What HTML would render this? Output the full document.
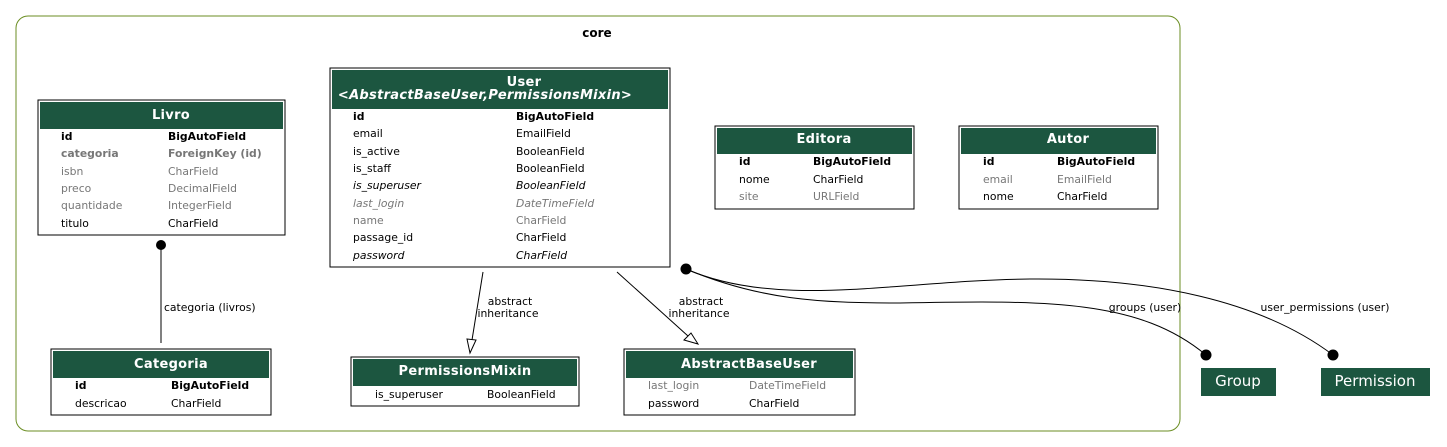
<!DOCTYPE html>
<html><head><meta charset="utf-8"><style>
html,body{margin:0;padding:0;background:#fff;}
svg{display:block;font-family:"DejaVu Sans","Liberation Sans",sans-serif;}
.f{font-size:10.8px;fill:#000}
.g{fill:#777}
.b{font-weight:bold}
.i{font-style:italic}
.t{font-size:13px;font-weight:bold;fill:#fff;letter-spacing:0.3px}
.l{font-size:10.8px;fill:#000}
</style></head><body>
<svg width="1447" height="447" viewBox="0 0 1447 447" xmlns="http://www.w3.org/2000/svg">
<rect x="16" y="16" width="1164" height="415" rx="12" fill="none" stroke="#6b8e23" stroke-width="1"/>
<text x="597" y="37" text-anchor="middle" style="font-size:12px;font-weight:bold">core</text>

<!-- Livro -->
<rect x="38" y="100" width="247" height="135" fill="#fff" stroke="#000"/>
<rect x="40" y="102" width="243" height="27" fill="#1c5640"/>
<text class="t" x="171" y="119" text-anchor="middle">Livro</text>
<g class="f">
<text x="61" y="140" class="b">id</text><text x="168" y="140" class="b">BigAutoField</text>
<text x="61" y="157" class="b g">categoria</text><text x="168" y="157" class="b g">ForeignKey (id)</text>
<text x="61" y="175" class="g">isbn</text><text x="168" y="175" class="g">CharField</text>
<text x="61" y="192" class="g">preco</text><text x="168" y="192" class="g">DecimalField</text>
<text x="61" y="209" class="g">quantidade</text><text x="168" y="209" class="g">IntegerField</text>
<text x="61" y="227">titulo</text><text x="168" y="227">CharField</text>
</g>

<!-- User -->
<rect x="330" y="68" width="340" height="199" fill="#fff" stroke="#000"/>
<rect x="332" y="70" width="336" height="39" fill="#1c5640"/>
<text class="t" x="524" y="86" text-anchor="middle">User</text>
<text class="t i" x="485" y="99" text-anchor="middle">&lt;AbstractBaseUser,PermissionsMixin&gt;</text>
<g class="f">
<text x="353" y="120" class="b">id</text><text x="516" y="120" class="b">BigAutoField</text>
<text x="353" y="137">email</text><text x="516" y="137">EmailField</text>
<text x="353" y="155">is_active</text><text x="516" y="155">BooleanField</text>
<text x="353" y="172">is_staff</text><text x="516" y="172">BooleanField</text>
<text x="353" y="189" class="i">is_superuser</text><text x="516" y="189" class="i">BooleanField</text>
<text x="353" y="207" class="i g">last_login</text><text x="516" y="207" class="i g">DateTimeField</text>
<text x="353" y="224" class="g">name</text><text x="516" y="224" class="g">CharField</text>
<text x="353" y="241">passage_id</text><text x="516" y="241">CharField</text>
<text x="353" y="259" class="i">password</text><text x="516" y="259" class="i">CharField</text>
</g>

<!-- Editora -->
<rect x="715" y="126" width="199" height="83" fill="#fff" stroke="#000"/>
<rect x="717" y="128" width="195" height="26" fill="#1c5640"/>
<text class="t" x="824" y="143" text-anchor="middle">Editora</text>
<g class="f">
<text x="739" y="165" class="b">id</text><text x="813" y="165" class="b">BigAutoField</text>
<text x="739" y="183">nome</text><text x="813" y="183">CharField</text>
<text x="739" y="200" class="g">site</text><text x="813" y="200" class="g">URLField</text>
</g>

<!-- Autor -->
<rect x="959" y="126" width="199" height="83" fill="#fff" stroke="#000"/>
<rect x="961" y="128" width="195" height="26" fill="#1c5640"/>
<text class="t" x="1068" y="143" text-anchor="middle">Autor</text>
<g class="f">
<text x="983" y="165" class="b">id</text><text x="1057" y="165" class="b">BigAutoField</text>
<text x="983" y="183" class="g">email</text><text x="1057" y="183" class="g">EmailField</text>
<text x="983" y="200">nome</text><text x="1057" y="200">CharField</text>
</g>

<!-- Categoria -->
<rect x="51" y="349" width="220" height="66" fill="#fff" stroke="#000"/>
<rect x="53" y="351" width="216" height="27" fill="#1c5640"/>
<text class="t" x="171" y="368" text-anchor="middle">Categoria</text>
<g class="f">
<text x="75" y="389" class="b">id</text><text x="171" y="389" class="b">BigAutoField</text>
<text x="75" y="407">descricao</text><text x="171" y="407">CharField</text>
</g>

<!-- PermissionsMixin -->
<rect x="351" y="357" width="228" height="49" fill="#fff" stroke="#000"/>
<rect x="353" y="359" width="224" height="27" fill="#1c5640"/>
<text class="t" x="465" y="375" text-anchor="middle">PermissionsMixin</text>
<g class="f">
<text x="375" y="398">is_superuser</text><text x="487" y="398">BooleanField</text>
</g>

<!-- AbstractBaseUser -->
<rect x="624" y="349" width="231" height="66" fill="#fff" stroke="#000"/>
<rect x="626" y="351" width="227" height="27" fill="#1c5640"/>
<text class="t" x="749" y="368" text-anchor="middle">AbstractBaseUser</text>
<g class="f">
<text x="648" y="389" class="g">last_login</text><text x="749" y="389" class="g">DateTimeField</text>
<text x="648" y="407">password</text><text x="749" y="407">CharField</text>
</g>

<!-- Group / Permission -->
<rect x="1201" y="368" width="75" height="28" fill="#1c5640"/>
<text x="1238" y="386" text-anchor="middle" style="font-size:15px;fill:#fff">Group</text>
<rect x="1321" y="368" width="109" height="28" fill="#1c5640"/>
<text x="1375" y="386" text-anchor="middle" style="font-size:15px;fill:#fff">Permission</text>

<!-- edges -->
<circle cx="161" cy="245" r="5" fill="#000"/>
<line x1="161" y1="245" x2="161" y2="343" stroke="#000"/>
<text class="l" x="164" y="311">categoria (livros)</text>

<line x1="483" y1="272" x2="472" y2="340" stroke="#000"/>
<polygon points="467,339 476,340 470,353" fill="#fff" stroke="#000"/>
<text class="l" x="510" y="305" text-anchor="middle">abstract</text>
<text class="l" x="508" y="317" text-anchor="middle">inheritance</text>

<line x1="617" y1="272" x2="688" y2="336" stroke="#000"/>
<polygon points="684,340 691,333 698,344" fill="#fff" stroke="#000"/>
<text class="l" x="701" y="305" text-anchor="middle">abstract</text>
<text class="l" x="699" y="317" text-anchor="middle">inheritance</text>

<circle cx="686" cy="269" r="5.5" fill="#000"/>
<path d="M686,269 C760,300 820,303 900,303 C1050,300 1140,300 1206,355" fill="none" stroke="#000"/>
<path d="M686,269 C780,310 900,280 1030,279 C1150,278 1260,300 1333,355" fill="none" stroke="#000"/>
<circle cx="1206" cy="355" r="5.5" fill="#000"/>
<circle cx="1333" cy="355" r="5.5" fill="#000"/>
<text class="l" x="1145" y="311" text-anchor="middle">groups (user)</text>
<text class="l" x="1325" y="311" text-anchor="middle">user_permissions (user)</text>
</svg>
</body></html>
